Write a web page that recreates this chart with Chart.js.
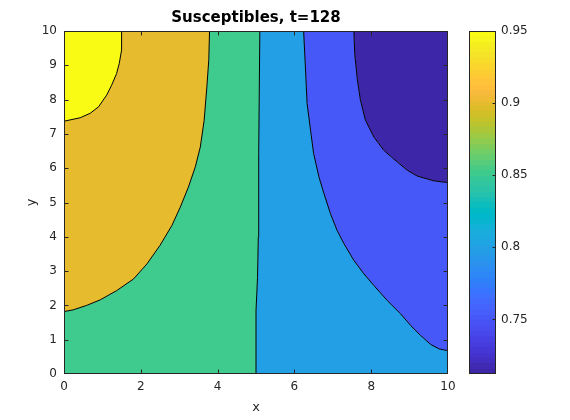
<!DOCTYPE html>
<html><head><meta charset="utf-8">
<script src="https://cdn.jsdelivr.net/npm/chart.js@4.4.1/dist/chart.umd.min.js"></script>
<style>
html,body{margin:0;padding:0;background:#fff;}
#wrap{position:relative;width:570px;height:420px;overflow:hidden;}
#main{position:absolute;left:0;top:0;}
#cbar{position:absolute;left:450px;top:0;}
</style></head><body>
<div id="wrap"><canvas id="main" width="570" height="420"></canvas><canvas id="cbar" width="120" height="420"></canvas></div>
<script>
// ---------- data ----------
const titleText = 'Susceptibles, t=128';
const xLabel = 'x';
const yLabel = 'y';
const xTicks = [0, 2, 4, 6, 8, 10];
const yTicks = [0, 1, 2, 3, 4, 5, 6, 7, 8, 9, 10];
const cbTicks = [0.75, 0.8, 0.85, 0.9, 0.95];
const cMin = 0.7122, cMax = 0.95;
// fill level of each region
const levelDark = 0.7122, levelPurple = 0.75, levelBlue = 0.8, levelGreen = 0.85, levelOrange = 0.9, levelYellow = 0.95;
// contour lines [x, y]
const c095 = [[0,7.37],[0.42,7.47],[0.68,7.60],[0.90,7.79],[1.11,8.13],[1.24,8.42],[1.37,8.76],[1.44,9.06],[1.50,9.45],[1.50,10]];
const c090 = [[0,1.82],[0.24,1.87],[0.59,2.00],[0.94,2.16],[1.37,2.43],[1.81,2.77],[2.16,3.21],[2.50,3.75],[2.81,4.33],[3.03,4.87],[3.24,5.45],[3.42,6.04],[3.55,6.62],[3.65,7.40],[3.72,8.37],[3.77,9.15],[3.79,10]];
const c085 = [[5.00,0],[5.00,1.84],[5.04,2.82],[5.06,3.99],[5.07,6.42],[5.10,10]];
const c080 = [[6.24,10],[6.29,8.86],[6.33,7.89],[6.42,7.11],[6.50,6.43],[6.64,5.74],[6.77,5.26],[6.94,4.67],[7.11,4.19],[7.29,3.80],[7.55,3.31],[7.81,2.92],[8.07,2.58],[8.42,2.14],[8.77,1.75],[9.03,1.41],[9.29,1.12],[9.55,0.86],[9.77,0.73],[10,0.68]];
const c075 = [[7.55,10],[7.57,9.35],[7.64,8.57],[7.72,7.98],[7.85,7.40],[8.07,6.91],[8.33,6.52],[8.68,6.18],[8.94,5.94],[9.20,5.77],[9.64,5.63],[10,5.58]];
const xMin = 0, xMax = 10, yMin = 0, yMax = 10;

// ---------- style ----------
const PARULA = [[0.2422,0.1504,0.6603],[0.2504,0.1650,0.7076],[0.2578,0.1818,0.7511],[0.2647,0.1978,0.7952],[0.2706,0.2147,0.8364],[0.2751,0.2342,0.8710],[0.2783,0.2559,0.8991],[0.2803,0.2782,0.9221],[0.2813,0.3006,0.9414],[0.2810,0.3228,0.9579],[0.2795,0.3447,0.9717],[0.2760,0.3667,0.9829],[0.2699,0.3892,0.9906],[0.2602,0.4123,0.9952],[0.2440,0.4358,0.9988],[0.2206,0.4603,0.9973],[0.1963,0.4847,0.9892],[0.1834,0.5074,0.9798],[0.1786,0.5289,0.9682],[0.1764,0.5499,0.9520],[0.1687,0.5703,0.9359],[0.1540,0.5902,0.9218],[0.1460,0.6091,0.9079],[0.1380,0.6276,0.8973],[0.1248,0.6459,0.8883],[0.1113,0.6635,0.8763],[0.0952,0.6798,0.8598],[0.0689,0.6948,0.8394],[0.0297,0.7082,0.8163],[0.0036,0.7203,0.7917],[0.0067,0.7312,0.7660],[0.0433,0.7411,0.7394],[0.0964,0.7500,0.7120],[0.1408,0.7584,0.6842],[0.1717,0.7670,0.6554],[0.1938,0.7758,0.6251],[0.2161,0.7843,0.5923],[0.2470,0.7918,0.5567],[0.2906,0.7973,0.5188],[0.3406,0.8008,0.4789],[0.3909,0.8029,0.4354],[0.4456,0.8024,0.3909],[0.5044,0.7993,0.3480],[0.5616,0.7942,0.3045],[0.6174,0.7876,0.2612],[0.6720,0.7793,0.2227],[0.7242,0.7698,0.1910],[0.7738,0.7598,0.1646],[0.8203,0.7498,0.1535],[0.8634,0.7406,0.1596],[0.9035,0.7330,0.1774],[0.9393,0.7288,0.2100],[0.9728,0.7298,0.2394],[0.9956,0.7434,0.2371],[0.9970,0.7659,0.2199],[0.9952,0.7893,0.2028],[0.9892,0.8136,0.1885],[0.9786,0.8386,0.1766],[0.9676,0.8639,0.1643],[0.9610,0.8890,0.1537],[0.9597,0.9135,0.1423],[0.9628,0.9373,0.1265],[0.9691,0.9606,0.1064],[0.9769,0.9839,0.0805]];
const FONT = 'DejaVu Sans';
const AXIS_COLOR = '#262626';
function cssColor(c){return 'rgb('+Math.round(c[0]*255)+','+Math.round(c[1]*255)+','+Math.round(c[2]*255)+')';}
function colorFor(v){
  const n = PARULA.length;
  let i = Math.floor((v - cMin) / (cMax - cMin) * n);
  i = Math.max(0, Math.min(n - 1, i));
  return cssColor(PARULA[i]);
}
const pts = a => a.map(p => ({x: p[0], y: p[1]}));
const rev = a => a.slice().reverse();

// region polygons built from the contour lines and plot corners
const regions = [
  {level: levelYellow, poly: [[xMin, yMax], ...c095]},
  {level: levelOrange, poly: [...c090, ...rev(c095)]},
  {level: levelGreen,  poly: [[xMin, yMin], ...c085, ...rev(c090)]},
  {level: levelBlue,   poly: [...c085, ...c080, [xMax, yMin]]},
  {level: levelPurple, poly: [...c080, ...rev(c075)]},
  {level: levelDark,   poly: [...c075, [xMax, yMax]]}
];
const contourLines = [c095, c090, c085, c080, c075];

const datasets = [];
regions.forEach(r => datasets.push({
  data: pts(r.poly), fill: 'shape', backgroundColor: colorFor(r.level),
  borderWidth: 0, pointRadius: 0, pointHoverRadius: 0, tension: 0, order: 1
}));
contourLines.forEach(c => datasets.push({
  data: pts(c), fill: false, borderColor: '#000000', borderWidth: 1,
  pointRadius: 0, pointHoverRadius: 0, tension: 0, order: 0
}));

const boxPlugin = {
  id: 'box',
  afterDraw(chart, args, opts) {
    const {ctx, chartArea: a} = chart;
    ctx.save();
    ctx.strokeStyle = AXIS_COLOR;
    ctx.lineWidth = 1;
    const L = a.left + 0.5, R = a.right - 0.5, T = a.top + 0.5, B = a.bottom - 0.5;
    ctx.strokeRect(L, T, R - L, B - T);
    const tl = opts.tickLen || 4;
    ctx.beginPath();
    if (opts.xTicks && chart.scales.x) {
      chart.scales.x.ticks.forEach(t => {
        const px = Math.round(chart.scales.x.getPixelForValue(t.value)) + 0.5;
        const x = Math.min(Math.max(px, L), R);
        ctx.moveTo(x, B); ctx.lineTo(x, B - tl);
        ctx.moveTo(x, T); ctx.lineTo(x, T + tl);
      });
    }
    if (chart.scales.y) {
      chart.scales.y.ticks.forEach(t => {
        const py = Math.round(chart.scales.y.getPixelForValue(t.value)) + 0.5;
        const y = Math.min(Math.max(py, T), B);
        if (opts.leftTicks) { ctx.moveTo(L, y); ctx.lineTo(L + tl, y); }
        ctx.moveTo(R, y); ctx.lineTo(R - tl, y);
      });
    }
    ctx.stroke();
    ctx.restore();
  }
};

new Chart(document.getElementById('main'), {
  type: 'line',
  data: {datasets},
  plugins: [boxPlugin],
  options: {
    responsive: false, animation: false, events: [],
    layout: {padding: {left: 0, right: 122, top: 0, bottom: 0}},
    plugins: {
      legend: {display: false}, tooltip: {enabled: false},
      title: {display: true, text: titleText, color: '#000000', fullSize: false,
        font: {family: FONT, size: 15, weight: 'bold', lineHeight: 1.2},
        padding: {top: 9, bottom: 4}},
      box: {xTicks: true, leftTicks: true, tickLen: 4}
    },
    scales: {
      x: {type: 'linear', min: xMin, max: xMax,
        afterBuildTicks: s => { s.ticks = xTicks.map(v => ({value: v})); },
        ticks: {font: {family: FONT, size: 12}, color: AXIS_COLOR, padding: 6, maxRotation: 0, autoSkip: false},
        grid: {display: false, drawTicks: false}, border: {display: false},
        title: {display: true, text: xLabel, color: AXIS_COLOR, font: {family: FONT, size: 13, lineHeight: 1.2}, padding: {top: 0, bottom: 4.5}},
        afterFit: s => { s.height = 46; }
      },
      y: {type: 'linear', min: yMin, max: yMax,
        afterBuildTicks: s => { s.ticks = yTicks.map(v => ({value: v})); },
        ticks: {font: {family: FONT, size: 12}, color: AXIS_COLOR, padding: 7, autoSkip: false},
        grid: {display: false, drawTicks: false}, border: {display: false},
        title: {display: true, text: yLabel, color: AXIS_COLOR, font: {family: FONT, size: 13, lineHeight: 1.2}, padding: {top: 23.5, bottom: 0}},
        afterFit: s => { s.width = 64; }
      }
    }
  }
});

// ---------- colorbar ----------
function cbGradient(ctx) {
  const a = ctx.chart.chartArea;
  if (!a) return colorFor(cMin);
  const g = ctx.chart.ctx.createLinearGradient(0, a.bottom, 0, a.top);
  const n = PARULA.length;
  for (let i = 0; i < n; i++) {
    const c = cssColor(PARULA[i]);
    g.addColorStop(i / n, c);
    g.addColorStop((i + 1) / n, c);
  }
  return g;
}
new Chart(document.getElementById('cbar'), {
  type: 'bar',
  data: {labels: [''], datasets: [{data: [[cMin, cMax]], backgroundColor: cbGradient, borderWidth: 0, barPercentage: 1, categoryPercentage: 1}]},
  plugins: [boxPlugin],
  options: {
    responsive: false, animation: false, events: [],
    layout: {padding: {left: 19, right: 0, top: 31, bottom: 46}},
    plugins: {legend: {display: false}, tooltip: {enabled: false}, title: {display: false},
      box: {xTicks: false, leftTicks: false, tickLen: 3}},
    scales: {
      x: {display: false},
      y: {position: 'right', min: cMin, max: cMax,
        afterBuildTicks: s => { s.ticks = cbTicks.map(v => ({value: v})); },
        ticks: {font: {family: FONT, size: 12}, color: AXIS_COLOR, padding: 5, autoSkip: false,
          callback: v => String(Math.round(v * 100) / 100)},
        grid: {display: false, drawTicks: false}, border: {display: false},
        afterFit: s => { s.width = 74; }
      }
    }
  }
});
</script>
</body></html>
